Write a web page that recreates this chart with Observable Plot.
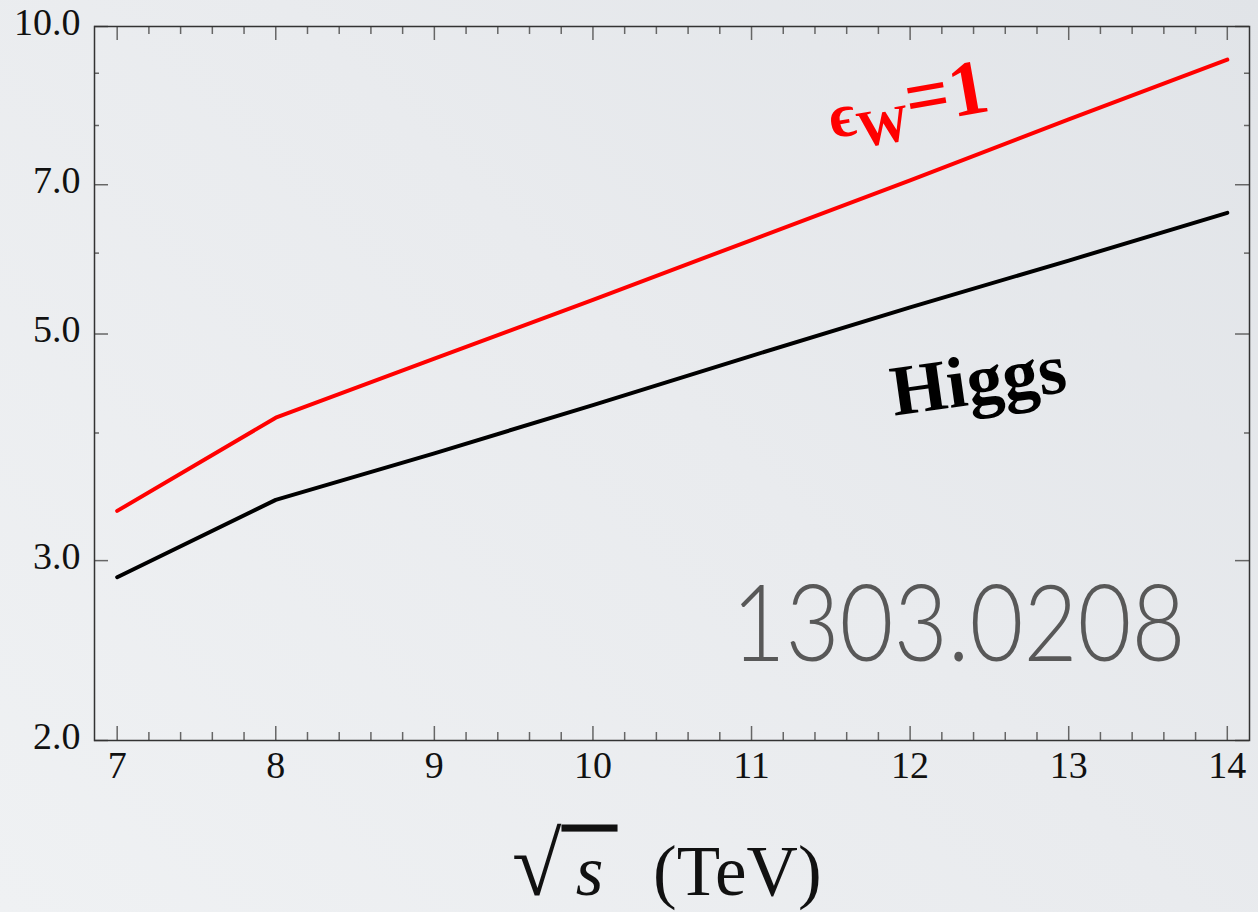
<!DOCTYPE html>
<html><head><meta charset="utf-8">
<script src="https://cdn.jsdelivr.net/npm/d3@7"></script>
<script src="https://cdn.jsdelivr.net/npm/@observablehq/plot@0.6"></script>
<style>
html,body{margin:0;padding:0;}
body{width:1258px;height:912px;overflow:hidden;background:linear-gradient(225deg,#e1e4e8 0%,#e9ebee 45%,#eff1f3 100%);}
</style></head><body><div id="chart"></div>
<script>
// data
const energies = [7, 8, 9, 10, 11, 12, 13, 14];
const ewValues = [3.356, 4.14, 4.73, 5.40, 6.18, 7.07, 8.11, 9.28];
const higgsValues = [2.89, 3.44, 3.82, 4.26, 4.76, 5.31, 5.90, 6.57];
const xTickLabels = [7, 8, 9, 10, 11, 12, 13, 14];
const yTickLabels = [2, 3, 5, 7, 10];
const xMinorTicks = d3.range(70, 141, 2).map(d => d / 10).filter(d => !Number.isInteger(d));
const yMinorTicks = [4, 6, 8, 9];

const ewData = energies.map((e, i) => ({e, v: ewValues[i]}));
const higgsData = energies.map((e, i) => ({e, v: higgsValues[i]}));

const W = 1258, H = 912;
const mT = 26, mB = 172, mL = 94, mR = 9;
const fh = H - mT - mB, fw = W - mL - mR;
const serif = "'Liberation Serif', 'Times New Roman', serif";
const tickColor = "#666";

const chart = Plot.plot({
  width: W, height: H,
  marginTop: mT, marginBottom: mB, marginLeft: mL, marginRight: mR,
  style: {background: "transparent", fontFamily: serif, overflow: "visible"},
  x: {domain: [6.857, 14.14]},
  y: {type: "log", domain: [2, 10]},
  marks: [
    Plot.tickX(xTickLabels, {x: d => d, stroke: tickColor, strokeWidth: 1.5, insetTop: fh - 14}),
    Plot.tickX(xTickLabels, {x: d => d, stroke: tickColor, strokeWidth: 1.5, insetBottom: fh - 14}),
    Plot.tickX(xMinorTicks, {x: d => d, stroke: tickColor, strokeWidth: 1.5, insetTop: fh - 8}),
    Plot.tickX(xMinorTicks, {x: d => d, stroke: tickColor, strokeWidth: 1.5, insetBottom: fh - 8}),
    Plot.tickY(yTickLabels, {y: d => d, stroke: tickColor, strokeWidth: 1.5, insetRight: fw - 14}),
    Plot.tickY(yTickLabels, {y: d => d, stroke: tickColor, strokeWidth: 1.5, insetLeft: fw - 14}),
    Plot.tickY(yMinorTicks, {y: d => d, stroke: tickColor, strokeWidth: 1.5, insetRight: fw - 5}),
    Plot.tickY(yMinorTicks, {y: d => d, stroke: tickColor, strokeWidth: 1.5, insetLeft: fw - 5}),
    Plot.frame({stroke: "#333", strokeWidth: 1.5}),
    Plot.axisX({ticks: xTickLabels, tickSize: 0, tickPadding: 11, fontSize: 38, fontFamily: serif, fill: "#111", label: null, tickFormat: d => String(d)}),
    Plot.axisY({ticks: yTickLabels, tickSize: 0, tickPadding: 14, fontSize: 38, fontFamily: serif, fill: "#111", dy: -4, label: null, tickFormat: d => d.toFixed(1)}),
    Plot.line(ewData, {x: "e", y: "v", stroke: "#ff0000", strokeWidth: 4}),
    Plot.line(higgsData, {x: "e", y: "v", stroke: "#000", strokeWidth: 4}),
    Plot.text(["ϵW=1"], {x: 11.511, y: 7.77, text: d => d, textAnchor: "start", lineAnchor: "bottom", rotate: -10, fill: "#ff0000", fontWeight: "bold", fontSize: 64, fontFamily: serif}),
    Plot.text(["Higgs"], {x: 12.43, y: 4.5, text: d => d, rotate: -8, fill: "#000", fontWeight: "bold", fontSize: 72, fontFamily: serif}),
    Plot.text(["1303.0208"], {x: 10.874, y: 2.393, text: d => d, textAnchor: "start", lineAnchor: "bottom", fill: "#585858", fontWeight: 300, fontSize: 106, fontFamily: "Lato, 'Open Sans', sans-serif"}),
    Plot.text(["√s (TeV)"], {x: 9.49, frameAnchor: "bottom", dy: 154, text: d => d, textAnchor: "start", lineAnchor: "bottom", fill: "#111", fontSize: 71, fontFamily: serif})
  ]
});
document.getElementById("chart").appendChild(chart);

const svg = d3.select(chart);
svg.selectAll("text").each(function() {
  const t = d3.select(this);
  const s = this.textContent;
  if (s === "ϵW=1") {
    t.text(null);
    t.append("tspan").attr("font-size", 62).text("ϵ");
    t.append("tspan").attr("font-size", 52).attr("dy", 14).text("W");
    t.append("tspan").attr("font-size", 78).attr("dy", -14).text("=1");
  } else if (s === "1303.0208") {
    t.attr("textLength", 454).attr("lengthAdjust", "spacingAndGlyphs");
  } else if (s === "√s (TeV)") {
    t.text(null);
    t.append("tspan").attr("font-size", 90).text("√");
    t.append("tspan").attr("font-style", "italic").attr("font-size", 71).style("text-decoration", "overline").text("\u2009s\u2009");
    t.append("tspan").attr("font-size", 71).text("\u00a0\u00a0(TeV)");
  }
});
</script></body></html>
